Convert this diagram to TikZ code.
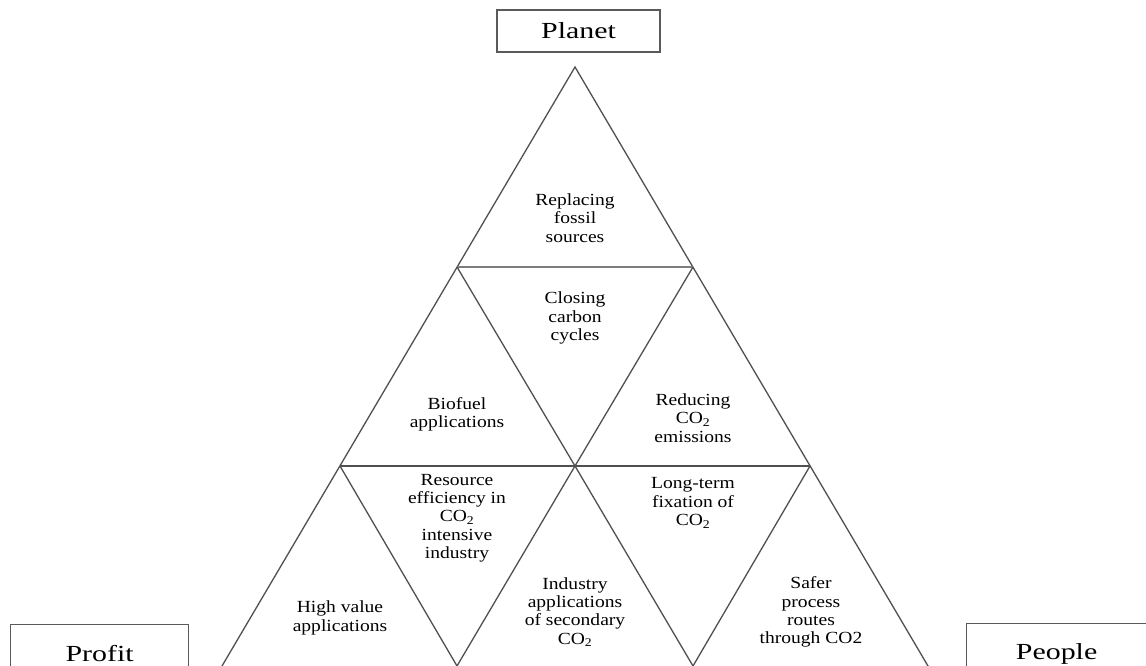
\documentclass[tikz,border=0pt]{standalone}
\usepackage{fontspec}
\setmainfont[FakeStretch=1.15]{Liberation Serif}
\newfontfamily\pillarfont[FakeStretch=1.3]{Liberation Serif}
\usetikzlibrary{calc}
\definecolor{edge}{HTML}{505050}
\definecolor{boxline}{HTML}{5A5A5A}
\tikzset{
  facet/.style={draw=edge, line width=1.3pt, line join=miter},
  ridge/.style={draw=edge!75, line width=2.8pt},
  pillar/.style={draw=boxline, line width=1.2pt, fill=white, inner sep=0pt,
    font=\pillarfont\fontsize{23}{26}\selectfont},
  label/.style={align=center, inner sep=0pt, text=black,
    font=\fontsize{17}{18.3}\selectfont},
}
\begin{document}
\begin{tikzpicture}[x=1pt, y=-1pt]
  \useasboundingbox (0,0) rectangle (1146,666);
  \begin{scope}
    \clip (0,0) rectangle (1146,666);
    % lattice points of the pyramid
    \coordinate (apex) at (575,67);
    \coordinate (l1) at (457,267);
    \coordinate (r1) at (693,267);
    \coordinate (l2) at (340,466);
    \coordinate (m2) at (575,466);
    \coordinate (r2) at (810,466);
    \coordinate (l3) at (222,666);
    \coordinate (ml3) at (457,666);
    \coordinate (mr3) at (693,666);
    \coordinate (r3) at (928,666);
    % outer sides, extended past the lower edge
    \draw[facet] ($(l3)!-0.05!(apex)$) -- (apex) -- ($(r3)!-0.05!(apex)$);
    % tier lines
    \draw[ridge] (l1) -- (r1);
    \draw[facet] (l2) -- (r2);
    % inner diagonals
    \draw[facet] (l1) -- (m2) -- ($(mr3)!-0.05!(m2)$);
    \draw[facet] (r1) -- (m2) -- ($(ml3)!-0.05!(m2)$);
    \draw[facet] (l2) -- ($(ml3)!-0.05!(l2)$);
    \draw[facet] (r2) -- ($(mr3)!-0.05!(r2)$);
  \end{scope}

  % the three pillars
  \node[pillar, minimum width=163pt, minimum height=42pt] (planet) at (578.5,31) {Planet};
  \node[pillar, anchor=north west, minimum width=178pt, minimum height=60pt] (profit) at (10,624) {\raisebox{2pt}{Profit}};
  \node[pillar, anchor=north west, minimum width=180pt, minimum height=60pt] (people) at (966,623) {\raisebox{-1pt}{People}};

  % facet texts
  \node[label] (fossil) at (575,218) {Replacing\\fossil\\sources};
  \node[label] (cycles) at (575,318) {Closing\\carbon\\cycles};
  \node[label] (biofuel) at (457,414) {Biofuel\\applications};
  \node[label] (reduce) at (693,418) {Reducing\\CO\textsubscript{2}\\emissions};
  \node[label] (resource) at (457,518) {Resource\\efficiency in\\CO\textsubscript{2}\\intensive\\industry};
  \node[label] (fixation) at (693,503) {Long-term\\fixation of\\CO\textsubscript{2}};
  \node[label] (highvalue) at (340,618) {High value\\applications};
  \node[label] (industry) at (575,612) {Industry\\applications\\of secondary\\CO\textsubscript{2}};
  \node[label] (safer) at (811,612) {Safer\\process\\routes\\through CO2};
\end{tikzpicture}
\end{document}
